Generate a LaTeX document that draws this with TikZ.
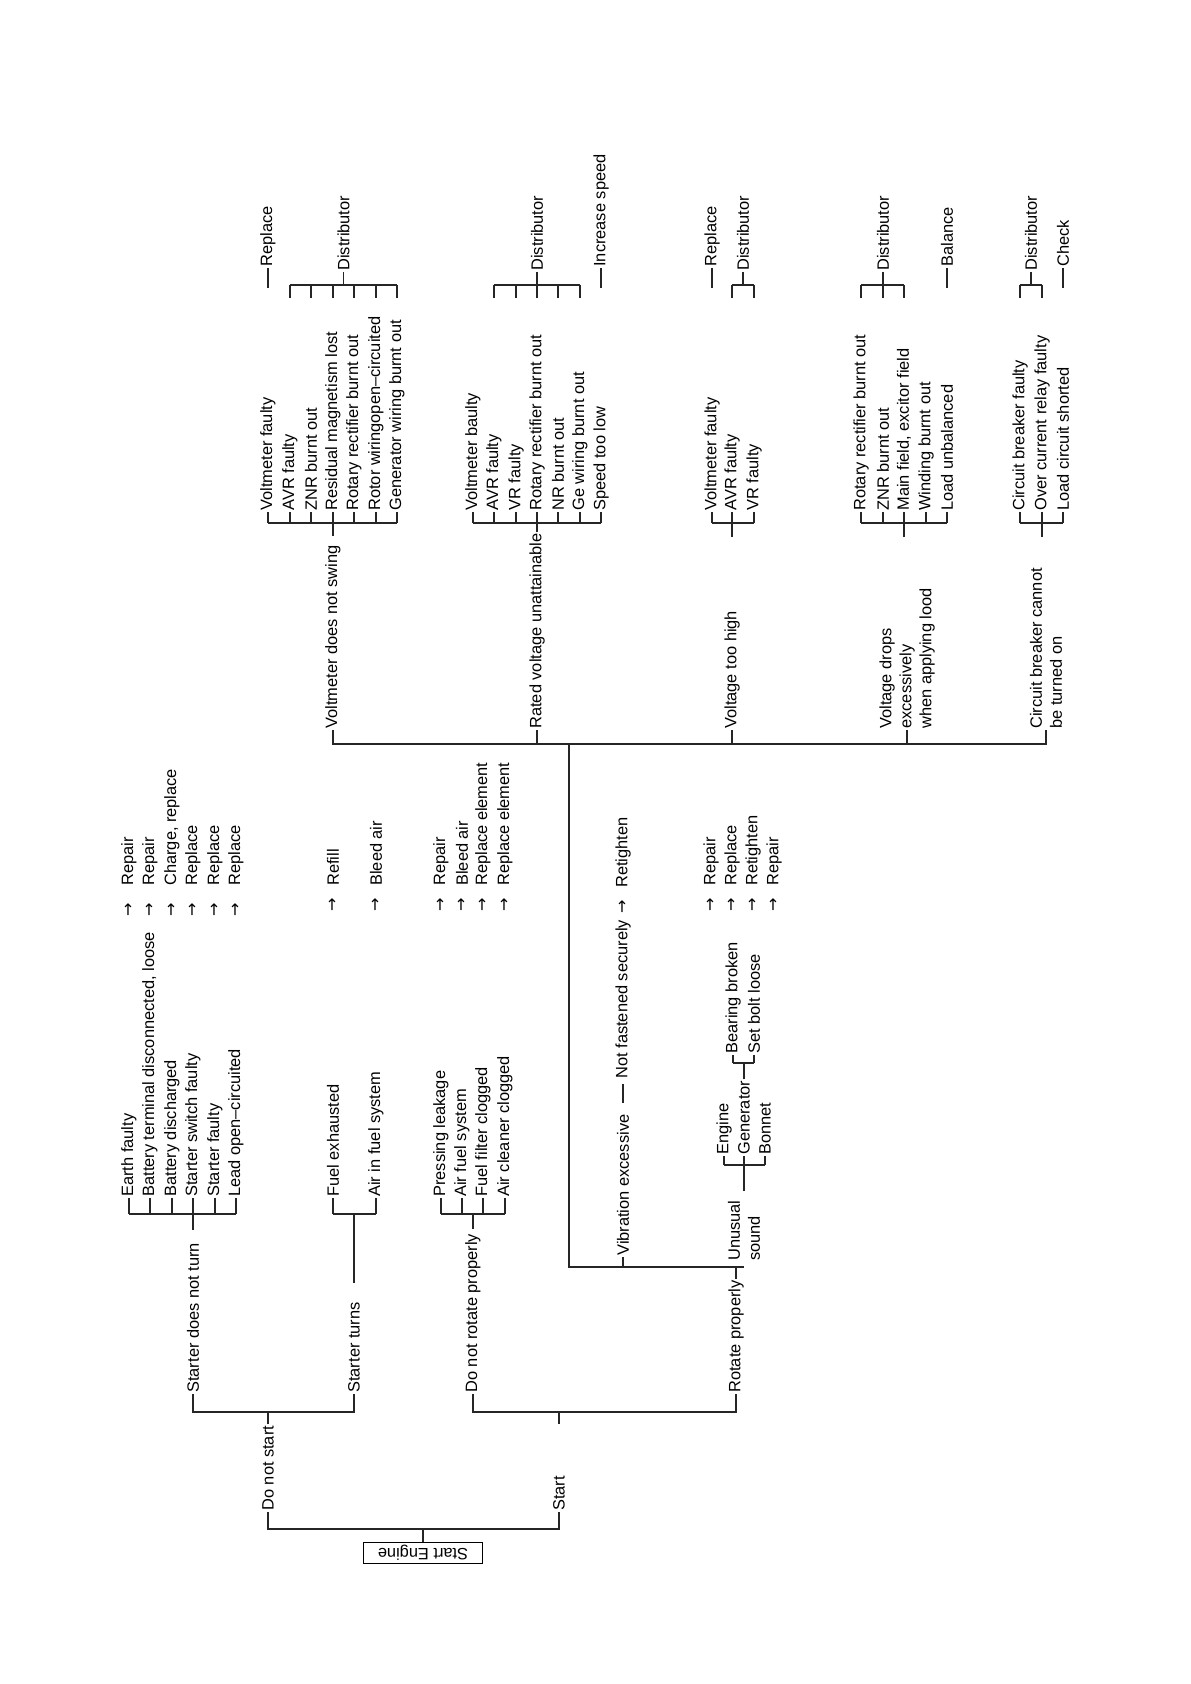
\documentclass[tikz,border=0pt]{standalone}
\usepackage{fontspec}
\setmainfont{Liberation Sans}
\newfontfamily\arrowfont{DejaVu Sans}
\usetikzlibrary{calc}
\tikzset{
  wire/.style={line width=0.75pt, black!85},
  lbl/.style={rotate=90, anchor=west, inner sep=0.5pt, align=left,
              font=\fontsize{8.2}{10}\selectfont},
  arw/.style={rotate=90, inner sep=0pt, font=\arrowfont\fontsize{8}{10}\selectfont},
  rootbox/.style={draw, line width=0.75pt, minimum width=59.5pt, minimum height=10.5pt,
                  inner sep=0pt, font=\fontsize{8.2}{10}\selectfont},
}
\begin{document}
\begin{tikzpicture}[x=0.5pt,y=-0.5pt,line cap=butt]
  \useasboundingbox (0,0) rectangle (1190,1684);
  % ---- root ----
  \node[rootbox] (root) at (423,1553) {\rotatebox{180}{Start Engine}};
  \coordinate (barR) at (0,1529);
  \node[lbl] (dns) at (268,1512) {Do not start};
  \node[lbl] (st) at (559,1512) {Start};
  \draw[wire] (root.north) -- (root.north |- barR);
  \draw[wire] (dns.west) -- (dns.west |- barR) -- (st.west |- barR) -- (st.west);
  % ---- level 2 ----
  \coordinate (barA) at (0,1412);
  \node[lbl] (sdn) at (193,1394) {Starter does not turn};
  \node[lbl] (stt) at (354,1394) {Starter turns};
  \node[lbl] (dnr) at (473,1394) {Do not rotate properly};
  \node[lbl] (rtp) at (736,1394) {Rotate properly};
  \draw[wire] (sdn.west) -- (sdn.west |- barA) -- (stt.west |- barA) -- (stt.west);
  \draw[wire] (dns.east) -- (dns.east |- barA);
  \draw[wire] (dnr.west) -- (dnr.west |- barA) -- (rtp.west |- barA) -- (rtp.west);
  \coordinate (stTick) at (559,1424);
  \draw[wire] (stTick) -- (stTick |- barA);
  % ---- starter does not turn ----
  \coordinate (barC) at (0,1214);
  \foreach \nm/\x/\txt/\act in {ef/129/Earth faulty/Repair,
      btd/150/Battery terminal disconnected{,} loose/Repair,
      bdc/172/Battery discharged/Charge{,} replace,
      ssf/193/Starter switch faulty/Replace,
      stf/215/Starter faulty/Replace,
      loc/236/Lead open–circuited/Replace}{
    \node[lbl] (\nm) at (\x,1198) {\txt};
    \node[arw] (\nm-ar) at (\x,910) {→};
    \node[lbl] (\nm-act) at (\x,887) {\act};
    \draw[wire] (\nm.west) -- (\nm.west |- barC);
  }
  \draw[wire] (ef.west |- barC) -- (loc.west |- barC);
  \draw[wire, shorten <=6pt] (sdn.east) -- (sdn.east |- barC);
  % ---- starter turns ----
  \foreach \nm/\x/\txt/\act in {fex/333/Fuel exhausted/Refill,
      aif/376/Air in fuel system/Bleed air}{
    \node[lbl] (\nm) at (\x,1198) {\txt};
    \node[arw] (\nm-ar) at (\x,905) {→};
    \node[lbl] (\nm-act) at (\x,887) {\act};
    \draw[wire] (\nm.west) -- (\nm.west |- barC);
  }
  \draw[wire] (fex.west |- barC) -- (aif.west |- barC);
  \draw[wire, shorten <=9pt] (stt.east) -- (stt.east |- barC);
  % ---- do not rotate properly ----
  \foreach \nm/\x/\txt/\act in {pl/441/Pressing leakage/Repair,
      afs/462/Air fuel system/Bleed air,
      ffc/483/Fuel filter clogged/Replace element,
      acc/505/Air cleaner clogged/Replace element}{
    \node[lbl] (\nm) at (\x,1198) {\txt};
    \node[arw] (\nm-ar) at (\x,905) {→};
    \node[lbl] (\nm-act) at (\x,887) {\act};
    \draw[wire] (\nm.west) -- (\nm.west |- barC);
  }
  \draw[wire] (pl.west |- barC) -- (acc.west |- barC);
  \draw[wire, shorten <=2pt] (dnr.east) -- (dnr.east |- barC);
  % ---- rotate properly ----
  \coordinate (barV) at (0,1267);
  \coordinate (barE) at (0,744);
  \coordinate (trk) at (569,1267);
  \node[lbl] (vib) at (623,1257) {Vibration excessive};
  \node[lbl] (uns) at (744,1262) {Unusual\\sound};
  \draw[wire] (rtp.east) -- (rtp.east |- barV) -- (trk) -- (trk |- barE);
  \draw[wire] (rtp.east |- barV) -- (uns.west |- barV);
  \draw[wire] (vib.west) -- (vib.west |- barV);
  \node[lbl] (nfs) at (623,1080) {Not fastened securely};
  \draw[wire, shorten <=5pt, shorten >=2pt] (vib.east) -- (nfs.west);
  \node[arw] (nfs-ar) at (623,907) {→};
  \node[lbl] (nfs-act) at (623,889) {Retighten};
  % unusual sound
  \coordinate (barU) at (0,1165);
  \foreach \nm/\x/\txt in {eng/724/Engine, gen/744/Generator, bon/765/Bonnet}{
    \node[lbl] (\nm) at (\x,1156) {\txt};
    \draw[wire] (\nm.west) -- (\nm.west |- barU);
  }
  \draw[wire] (eng.west |- barU) -- (bon.west |- barU);
  \draw[wire, shorten <=4pt] (uns.east) -- (uns.east |- barU);
  \coordinate (barG) at (0,1063);
  \foreach \nm/\x/\txt in {bbr/733/Bearing broken, sbl/754/Set bolt loose}{
    \node[lbl] (\nm) at (\x,1055) {\txt};
    \draw[wire] (\nm.west) -- (\nm.west |- barG);
  }
  \draw[wire] (bbr.west |- barG) -- (sbl.west |- barG);
  \draw[wire] (gen.east) -- (gen.east |- barG);
  \foreach \nm/\x/\act in {ra1/711/Repair, ra2/732/Replace, ra3/753/Retighten, ra4/774/Repair}{
    \node[arw] (\nm-ar) at (\x,905) {→};
    \node[lbl] (\nm) at (\x,887) {\act};
  }
  % ---- generator faults ----
  \node[lbl] (vds) at (333,730) {Voltmeter does not swing};
  \node[lbl] (rvu) at (537,730) {Rated voltage unattainable};
  \node[lbl] (vth) at (732,730) {Voltage too high};
  \node[lbl] (vdr) at (907,730) {Voltage drops\\excessively\\when applying lood};
  \node[lbl] (cbc) at (1046,730) {Circuit breaker cannot\\be turned on};
  \draw[wire] (vds.west) -- (vds.west |- barE) -- (cbc.west |- barE) -- (cbc.west);
  \foreach \nm in {rvu,vth,vdr} \draw[wire] (\nm.west) -- (\nm.west |- barE);
  \coordinate (barK) at (0,523);
  \coordinate (barD) at (0,285);
  \coordinate (tipD) at (0,298);
  % voltmeter does not swing
  \foreach \nm/\x/\txt in {vf1/268/Voltmeter faulty, avr1/290/AVR faulty,
      znr1/311/ZNR burnt out, rml/333/Residual magnetism lost,
      rrb1/354/Rotary rectifier burnt out, rwo/376/Rotor wiringopen–circuited,
      gwb/397/Generator wiring burnt out}{
    \node[lbl] (\nm) at (\x,512) {\txt};
    \draw[wire] (\nm.west) -- (\nm.west |- barK);
  }
  \draw[wire] (vf1.west |- barK) -- (gwb.west |- barK);
  \draw[wire, shorten <=4pt] (vds.east) -- (vds.east |- barK);
  \node[lbl] (rep1) at (268,268) {Replace};
  \draw[wire] (rep1.west) -- ++(0,20);
  \foreach \nm in {avr1,znr1,rml,rrb1,rwo,gwb} \draw[wire] (\nm.west |- tipD) -- (\nm.west |- barD);
  \draw[wire] (avr1.west |- barD) -- (gwb.west |- barD);
  \node[lbl] (dis1) at (343.5,272) {Distributor};
  \draw[wire] (dis1.west) -- (dis1.west |- barD);
  % rated voltage unattainable
  \foreach \nm/\x/\txt in {vb/473/Voltmeter baulty, avr2/494/AVR faulty,
      vr2/516/VR faulty, rrb2/537/Rotary rectifier burnt out,
      nrb/558/NR burnt out, gew/580/Ge wiring burnt out, stl/601/Speed too low}{
    \node[lbl] (\nm) at (\x,512) {\txt};
    \draw[wire] (\nm.west) -- (\nm.west |- barK);
  }
  \draw[wire] (vb.west |- barK) -- (stl.west |- barK);
  \draw[wire] (rvu.east) -- (rvu.east |- barK);
  \foreach \nm in {avr2,vr2,rrb2,nrb,gew} \draw[wire] (\nm.west |- tipD) -- (\nm.west |- barD);
  \draw[wire] (avr2.west |- barD) -- (gew.west |- barD);
  \node[lbl] (dis2) at (537,272) {Distributor};
  \draw[wire] (dis2.west) -- (dis2.west |- barD);
  \node[lbl] (inc) at (601,268) {Increase speed};
  \draw[wire] (inc.west) -- ++(0,20);
  % voltage too high
  \foreach \nm/\x/\txt in {vf3/712/Voltmeter faulty, avr3/732/AVR faulty, vr3/754/VR faulty}{
    \node[lbl] (\nm) at (\x,512) {\txt};
    \draw[wire] (\nm.west) -- (\nm.west |- barK);
  }
  \draw[wire] (vf3.west |- barK) -- (vr3.west |- barK);
  \coordinate (vthTk) at (732,537);
  \draw[wire] (vthTk) -- (vthTk |- barK);
  \node[lbl] (rep3) at (712,268) {Replace};
  \draw[wire] (rep3.west) -- ++(0,20);
  \foreach \nm in {avr3,vr3} \draw[wire] (\nm.west |- tipD) -- (\nm.west |- barD);
  \draw[wire] (avr3.west |- barD) -- (vr3.west |- barD);
  \node[lbl] (dis3) at (743,272) {Distributor};
  \draw[wire] (dis3.west) -- (dis3.west |- barD);
  % voltage drops
  \foreach \nm/\x/\txt in {rrb4/861/Rotary rectifier burnt out, znr4/883/ZNR burnt out,
      mfe/904/Main field{,} excitor field, wbo/926/Winding burnt out,
      lub/947/Load unbalanced}{
    \node[lbl] (\nm) at (\x,512) {\txt};
    \draw[wire] (\nm.west) -- (\nm.west |- barK);
  }
  \draw[wire] (rrb4.west |- barK) -- (lub.west |- barK);
  \coordinate (vdrTk) at (904,537);
  \draw[wire] (vdrTk) -- (vdrTk |- barK);
  \foreach \nm in {rrb4,znr4,mfe} \draw[wire] (\nm.west |- tipD) -- (\nm.west |- barD);
  \draw[wire] (rrb4.west |- barD) -- (mfe.west |- barD);
  \node[lbl] (dis4) at (883,272) {Distributor};
  \draw[wire] (dis4.west) -- (dis4.west |- barD);
  \node[lbl] (bal) at (947,268) {Balance};
  \draw[wire] (bal.west) -- ++(0,20);
  % circuit breaker
  \foreach \nm/\x/\txt in {cbf/1020/Circuit breaker faulty,
      ocr/1042/Over current relay faulty, lcs/1063/Load circuit shorted}{
    \node[lbl] (\nm) at (\x,512) {\txt};
    \draw[wire] (\nm.west) -- (\nm.west |- barK);
  }
  \draw[wire] (cbf.west |- barK) -- (lcs.west |- barK);
  \coordinate (cbcTk) at (1042,537);
  \draw[wire] (cbcTk) -- (cbcTk |- barK);
  \foreach \nm in {cbf,ocr} \draw[wire] (\nm.west |- tipD) -- (\nm.west |- barD);
  \draw[wire] (cbf.west |- barD) -- (ocr.west |- barD);
  \node[lbl] (dis5) at (1031,272) {Distributor};
  \draw[wire] (dis5.west) -- (dis5.west |- barD);
  \node[lbl] (chk) at (1063,268) {Check};
  \draw[wire] (chk.west) -- ++(0,20);
\end{tikzpicture}
\end{document}
